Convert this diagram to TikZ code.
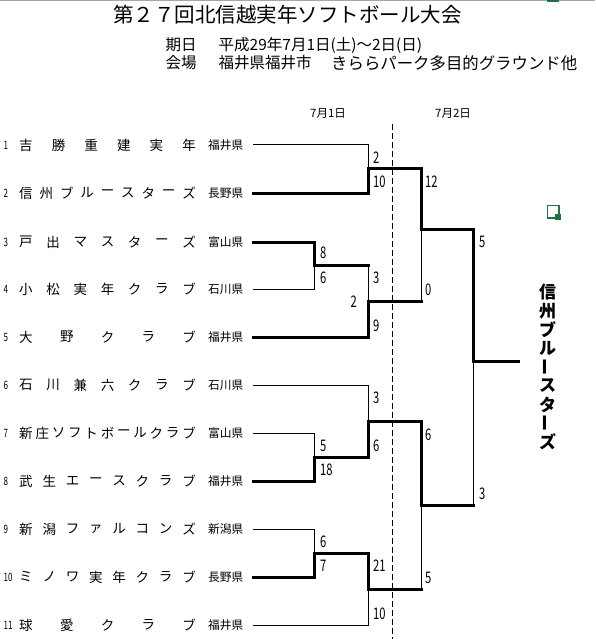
\documentclass[tikz,border=0pt]{standalone}
\usepackage{fontspec}
\newfontfamily\jp{Noto Sans CJK JP}
\newfontfamily\jpn[FakeStretch=0.7]{Noto Sans CJK JP}
\definecolor{xlgreen}{HTML}{217346}
\tikzset{
  thinln/.style={line width=1pt, line join=miter, line cap=rect},
  thickln/.style={line width=3pt, line join=miter, line cap=rect},
  score/.style={anchor=west, inner sep=0pt, font=\jpn\fontsize{16}{16}\selectfont},
  teamnum/.style={anchor=west, inner sep=0pt, font=\jpn\fontsize{11.5}{11.5}\selectfont},
  teamchar/.style={inner sep=0pt, font=\jp\fontsize{13.5}{13.5}\selectfont},
  pref/.style={anchor=west, inner sep=0pt, font=\jp\fontsize{11.7}{11.7}\selectfont},
  datelbl/.style={anchor=west, inner sep=0pt, font=\jp\fontsize{11.5}{11.5}\selectfont},
  subline/.style={anchor=west, inner sep=0pt, font=\jp\fontsize{15.5}{15.5}\selectfont},
  winchar/.style={inner sep=0pt, font=\jp\bfseries\fontsize{17}{17}\selectfont},
}
\newcommand\teamrow[5]{%
  \node[teamnum] (num#2) at (3.5,#1) {#2};
  \foreach \c [count=\i from 0] in {#4} {
    \pgfmathsetmacro\xx{26+\i*163/(#3-1)}
    \node[teamchar] (tc#2-\i) at (\xx,#1) {\c};
  }
  \node[pref] (pf#2) at (208,#1) {#5};
  \coordinate (t#2) at (253,#1);
}
\begin{document}
\begin{tikzpicture}[x=1pt,y=-1pt]
\useasboundingbox (0,0) rectangle (595,639);
% top bar
\draw[gray!70, line width=1.5pt] (0,0.75) -- (595,0.75);
\fill[xlgreen] (547,0) rectangle (559,2);
% title
\node[anchor=west, inner sep=0pt, font=\jp\fontsize{20.5}{20.5}\selectfont] (title) at (113,15) {第２７回北信越実年ソフトボール大会};
\node[subline] (k1) at (165.5,45) {期日};
\node[subline] (k2) at (218.5,45) {平成29年7月1日(土)～2日(日)};
\node[subline] (v1) at (165.5,63) {会場};
\node[subline] (v2) at (218.5,63) {福井県福井市};
\node[subline, font=\jp\fontsize{16.4}{16.4}\selectfont] (v3) at (331,63) {きららパーク多目的グラウンド他};
% date labels
\node[datelbl] (d1) at (310,113) {7月1日};
\node[datelbl] (d2) at (435,113) {7月2日};
% teams
\teamrow{145}{1}{6}{吉,勝,重,建,実,年}{福井県}
\teamrow{193}{2}{9}{信,州,ブ,ル,ー,ス,タ,ー,ズ}{長野県}
\teamrow{242}{3}{7}{戸,出,マ,ス,タ,ー,ズ}{富山県}
\teamrow{289}{4}{7}{小,松,実,年,ク,ラ,ブ}{石川県}
\teamrow{337}{5}{5}{大,野,ク,ラ,ブ}{福井県}
\teamrow{385}{6}{7}{石,川,兼,六,ク,ラ,ブ}{石川県}
\teamrow{433}{7}{11}{新,庄,ソ,フ,ト,ボ,ー,ル,ク,ラ,ブ}{富山県}
\teamrow{481}{8}{8}{武,生,エ,ー,ス,ク,ラ,ブ}{福井県}
\teamrow{529}{9}{8}{新,潟,フ,ァ,ル,コ,ン,ズ}{新潟県}
\teamrow{577}{10}{8}{ミ,ノ,ワ,実,年,ク,ラ,ブ}{長野県}
\teamrow{625}{11}{5}{球,愛,ク,ラ,ブ}{福井県}
% bracket junctions
\coordinate (a1) at (368,169);
\coordinate (a2) at (314,265);
\coordinate (a3) at (368,301);
\coordinate (b1) at (421,229);
\coordinate (a4) at (368,421);
\coordinate (a5) at (314,457);
\coordinate (a6) at (314,553);
\coordinate (a7) at (368,589);
\coordinate (b2) at (421,505);
\coordinate (c1) at (473,361);
\coordinate (w) at (518,361);
% day separator
\coordinate (ds) at (392,124);
\coordinate (de) at (392,639);
\draw[line width=1pt, dash pattern=on 6pt off 3pt] (ds) -- (de);
% thin (losing) lines
\draw[thinln] (t1) -| (a1);
\draw[thinln] (t4) -| (a2);
\draw[thinln] (a2 -| a1) -- (a3);
\draw[thinln] (a3 -| b1) -- (b1);
\draw[thinln] (t6) -| (a4);
\draw[thinln] (t7) -| (a5);
\draw[thinln] (t9) -| (a6);
\draw[thinln] (t11) -| (a7);
\draw[thinln] (a7 -| b2) -- (b2);
\draw[thinln] (b2 -| c1) -- (c1);
% thick (winning) lines
\draw[thickln] (t2) -| (a1) -| (b1) -| (c1) -- (w);
\draw[thickln] (t3) -| (a2) -- (a2 -| a1);
\draw[thickln] (t5) -| (a3) -- (a3 -| b1);
\draw[thickln] (t8) -| (a5) -| (a4) -| (b2) -- (b2 -| c1);
\draw[thickln] (t10) -| (a6) -| (a7) -- (a7 -| b2);
% scores
\node[score] (s1) at (373,158) {2};
\node[score] (s2) at (373,182) {10};
\node[score] (s3) at (320,253) {8};
\node[score] (s4) at (320,278) {6};
\node[score] (s5) at (373,278) {3};
\node[score, anchor=east] (s6) at (357,302) {2};
\node[score] (s7) at (373,326) {9};
\node[score] (s8) at (425,182) {12};
\node[score] (s9) at (425,290) {0};
\node[score] (s10) at (479,242) {5};
\node[score] (s11) at (373,398) {3};
\node[score] (s12) at (320,446) {5};
\node[score] (s13) at (373,446) {6};
\node[score] (s14) at (320,470) {18};
\node[score] (s15) at (320,542) {6};
\node[score] (s16) at (320,566) {7};
\node[score] (s17) at (373,566) {21};
\node[score] (s18) at (373,614) {10};
\node[score] (s19) at (425,435) {6};
\node[score] (s20) at (425,578) {5};
\node[score] (s21) at (479,494) {3};
% winner (vertical)
\foreach \c [count=\i from 0] in {信,州,ブ,ル,\rotatebox{90}{ー},ス,タ,\rotatebox{90}{ー},ズ} {
  \node[winchar] (wc\i) at (547.5,292+\i*18.75) {\c};
}
% green marker
\draw[xlgreen, line width=1.8pt] (547.5,205.5) rectangle (559,218);
\fill[xlgreen] (554.5,213.5) rectangle (561,220);
\end{tikzpicture}
\end{document}
